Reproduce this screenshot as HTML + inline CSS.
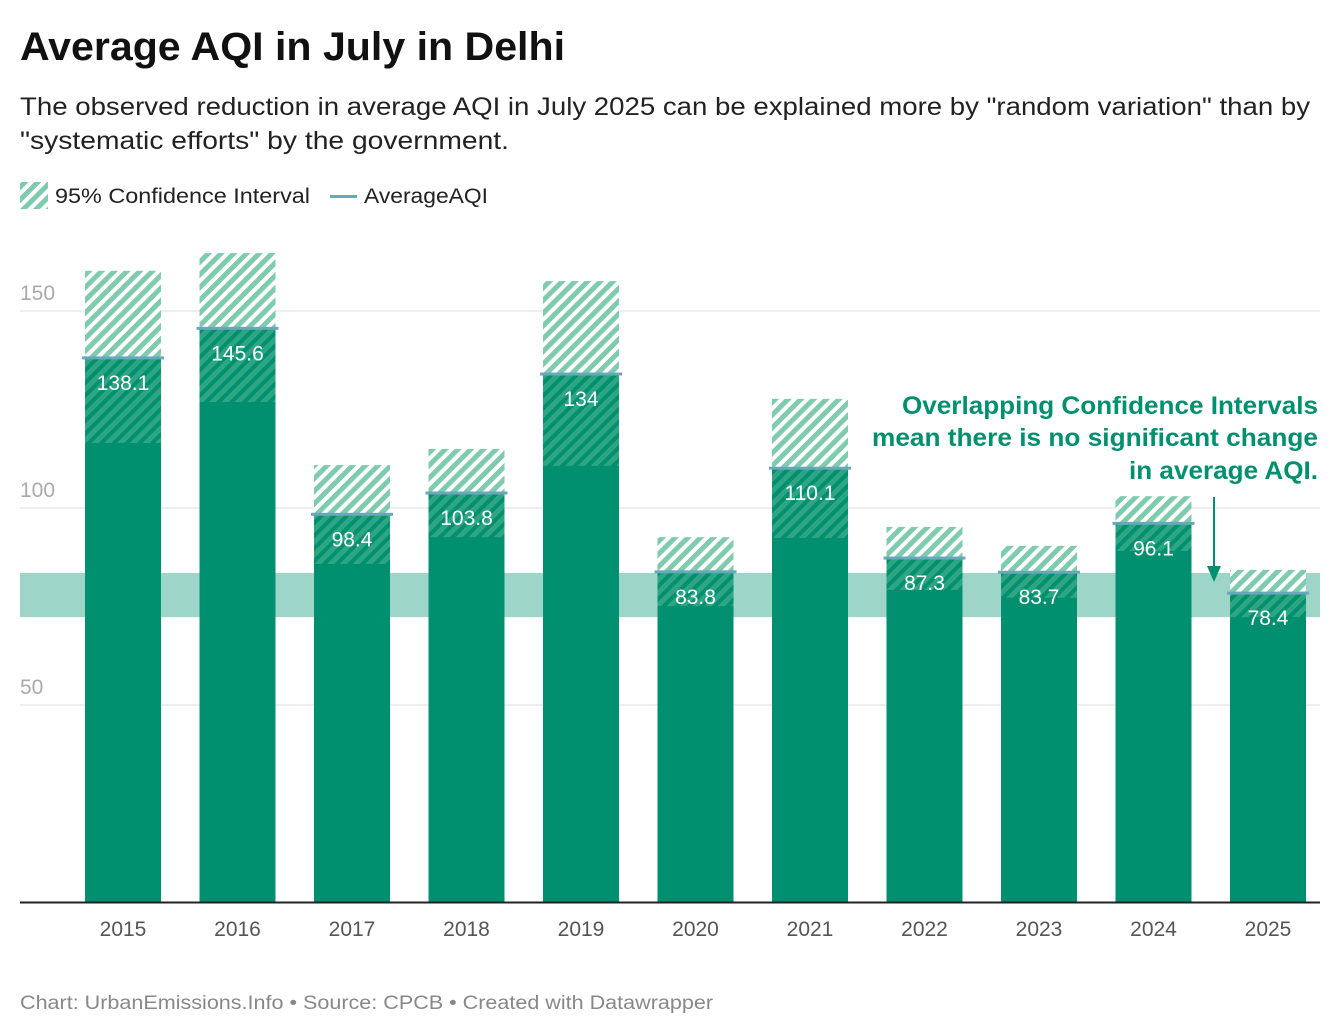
<!DOCTYPE html>
<html><head><meta charset="utf-8"><style>
body{margin:0;background:#fff;font-family:"Liberation Sans",sans-serif;}
#wrap{position:relative;width:1340px;height:1036px;overflow:hidden}
</style></head><body>
<div id="wrap">
<svg id="svg" width="1340" height="1036" xmlns="http://www.w3.org/2000/svg">
<defs>
<pattern id="hatch" patternUnits="userSpaceOnUse" width="9" height="9" patternTransform="rotate(45)">
<rect width="9" height="9" fill="#ffffff"/><rect width="5" height="9" fill="#7fcbb0"/></pattern>
<pattern id="hatchDark" patternUnits="userSpaceOnUse" width="9" height="9" patternTransform="rotate(45)">
<rect width="9" height="9" fill="#00906f"/><rect width="5" height="9" fill="#2fa683"/></pattern>
</defs>
<text x="20" y="60" font-size="40" font-weight="bold" fill="#111" textLength="545" lengthAdjust="spacingAndGlyphs">Average AQI in July in Delhi</text>
<text x="20" y="115" font-size="25" fill="#222" textLength="1290" lengthAdjust="spacingAndGlyphs">The observed reduction in average AQI in July 2025 can be explained more by "random variation" than by</text>
<text x="20" y="149" font-size="25" fill="#222" textLength="489" lengthAdjust="spacingAndGlyphs">"systematic efforts" by the government.</text>
<rect x="20" y="182" width="28" height="27" fill="url(#hatch)"/>
<text x="55" y="203" font-size="21" fill="#222" textLength="255" lengthAdjust="spacingAndGlyphs">95% Confidence Interval</text>
<rect x="330" y="195" width="27" height="3" fill="#6aa7b8"/>
<text x="364" y="203" font-size="21" fill="#222" textLength="124" lengthAdjust="spacingAndGlyphs">AverageAQI</text>
<g id="plot"></g>
<text x="1318" y="414" font-size="25" font-weight="bold" fill="#00906f" text-anchor="end" textLength="416" lengthAdjust="spacingAndGlyphs">Overlapping Confidence Intervals</text>
<text x="1318" y="446" font-size="25" font-weight="bold" fill="#00906f" text-anchor="end" textLength="446" lengthAdjust="spacingAndGlyphs">mean there is no significant change</text>
<text x="1318" y="479" font-size="25" font-weight="bold" fill="#00906f" text-anchor="end" textLength="189" lengthAdjust="spacingAndGlyphs">in average AQI.</text>
<line x1="1214" y1="497" x2="1214" y2="570" stroke="#00906f" stroke-width="2"/>
<polygon points="1207,566 1221,566 1214,582" fill="#00906f"/>
<text x="20" y="1009" font-size="19" fill="#888" textLength="693" lengthAdjust="spacingAndGlyphs">Chart: UrbanEmissions.Info • Source: CPCB • Created with Datawrapper</text>
</svg>
</div>
<script>
const years=["2015","2016","2017","2018","2019","2020","2021","2022","2023","2024","2025"];
const means=[138.1,145.6,98.4,103.8,134,83.8,110.1,87.3,83.7,96.1,78.4];
const upper=[160.2,164.7,110.9,115,157.6,92.6,127.7,95.2,90.4,103,84.3];
const lower=[116.5,126.9,85.8,92.6,110.7,75.1,92.4,79.2,77.2,89.1,72.3];
const yTicks=[50,100,150];
const bandRange=[72.3,83.5];
const NS="http://www.w3.org/2000/svg";
const g=document.getElementById('plot');
const y=v=>902-3.94*v;
const xc=i=>123+114.5*i;
const bw=76;
function mk(t,a){const e=document.createElementNS(NS,t);for(const k in a)e.setAttribute(k,a[k]);g.appendChild(e);return e;}
yTicks.forEach(t=>{
 const l=mk('line',{x1:20,x2:1320,y1:y(t),y2:y(t),stroke:'#dddddd','stroke-width':1});
 
 
 const tx=mk('text',{x:20,y:y(t)-11,'font-size':21,fill:'#aaaaaa'});tx.textContent=t;
 
 
});
const band=mk('rect',{x:20,width:1300,y:y(bandRange[1]),height:y(bandRange[0])-y(bandRange[1]),fill:'#9dd5c8'});


years.forEach((yr,i)=>{
 const x=xc(i)-bw/2;
 const b=mk('rect',{x:x,width:bw,y:y(means[i]),height:y(0)-y(means[i]),fill:'#00906f'});
 
 
 const ci1=mk('rect',{x:x,width:bw,y:y(upper[i]),height:y(means[i])-y(upper[i]),fill:'url(#hatch)'});
 
 
 const ci2=mk('rect',{x:x,width:bw,y:y(means[i]),height:y(lower[i])-y(means[i]),fill:'url(#hatchDark)'});
 
 
 const m=mk('rect',{x:x-3,width:bw+6,y:y(means[i])-1.5,height:3,fill:'#6aa7b8'});
 
 
 const lb=mk('text',{x:xc(i),y:y(means[i])+32,'font-size':21,fill:'#fff','text-anchor':'middle'});lb.textContent=means[i];
 
 
 const xl=mk('text',{x:xc(i),y:936,'font-size':21,fill:'#555','text-anchor':'middle'});xl.textContent=yr;
 
 
});
const ax=mk('line',{x1:20,x2:1320,y1:902.5,y2:902.5,stroke:'#222','stroke-width':2});


</script>
</body></html>
